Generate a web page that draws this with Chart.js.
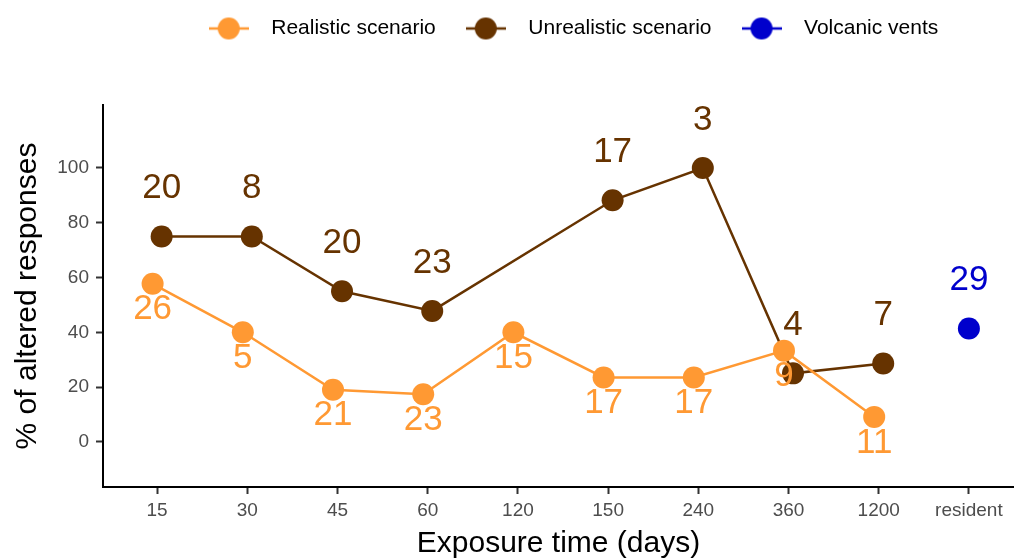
<!DOCTYPE html>
<html>
<head>
<meta charset="utf-8">
<script src="https://cdn.jsdelivr.net/npm/chart.js@4/dist/chart.umd.min.js"></script>
<style>
  body { margin: 0; background: #fff; }
  #wrap { width: 1014px; height: 559px; }
</style>
</head>
<body>
<div id="wrap"><canvas id="lineChart"></canvas></div>
<script>
// categories on the x axis (exposure time, days)
var categories = ['15', '30', '45', '60', '120', '150', '240', '360', '1200', 'resident'];

// % of altered responses
var realistic   = [57.7, 40, 19, 17.4, 40, 23.5, 23.5, 33.3, 9.1, null];
var unrealistic = [75, 75, 55, 47.8, null, 88.2, 100, 25, 28.6, null];
var vents       = [null, null, null, null, null, null, null, null, null, 41.4];

// sample sizes printed next to the points
var realisticN   = [26, 5, 21, 23, 15, 17, 17, 9, 11, null];
var unrealisticN = [20, 8, 20, 23, null, 17, 3, 4, 7, null];
var ventsN       = [null, null, null, null, null, null, null, null, null, 29];

var yTicks = [0, 20, 40, 60, 80, 100];

var orange = '#FF9933';
var brown = '#663300';
var blue = '#0000CC';
var font = "'Liberation Sans', Arial, sans-serif";

// turn a value array into {x, y} points, with a small side-by-side dodge
function toPoints(values, dodge) {
    return values
        .map(function (v, i) { return v === null ? null : { x: i + dodge, y: v }; })
        .filter(function (p) { return p !== null; });
}
function toLabels(values, counts) {
    return values
        .map(function (v, i) { return v === null ? null : counts[i]; })
        .filter(function (c) { return c !== null; });
}

// legend key: line with a dot, like the ggplot key
function legendKey(color) {
    var c = document.createElement('canvas');
    c.width = 40; c.height = 24;
    var g = c.getContext('2d');
    g.strokeStyle = color; g.lineWidth = 2.5;
    g.beginPath(); g.moveTo(0, 12); g.lineTo(40, 12); g.stroke();
    g.fillStyle = color;
    g.beginPath(); g.arc(20, 12, 11, 0, Math.PI * 2); g.fill();
    return c;
}
var keyColors = [orange, brown, blue];

// number labels above / below each point
var pointLabels = {
    id: 'pointLabels',
    afterDatasetsDraw: function (chart) {
        var ctx = chart.ctx;
        ctx.save();
        ctx.font = '35px ' + font;
        ctx.textAlign = 'center';
        ctx.textBaseline = 'middle';
        chart.data.datasets.forEach(function (ds, di) {
            var meta = chart.getDatasetMeta(di);
            meta.data.forEach(function (el, i) {
                ctx.fillStyle = ds.borderColor;
                ctx.fillText(String(ds.counts[i]), el.x, el.y + ds.labelOffset);
            });
        });
        ctx.restore();
    }
};

// leave room between the legend and the plot, nudge the legend right a bit
var legendSpacer = {
    id: 'legendSpacer',
    beforeInit: function (chart) {
        var legend = chart.legend;
        var fit = legend.fit;
        var draw = legend.draw;
        legend.fit = function () {
            fit.apply(legend, arguments);
            legend.height += 56;
        };
        legend.draw = function () {
            legend.ctx.save();
            legend.ctx.translate(9, 0);
            draw.apply(legend, arguments);
            legend.ctx.restore();
        };
    }
};

var ctx = document.getElementById('lineChart').getContext('2d');

var MyChart = new Chart(ctx, {
    type: 'line',
    data: {
        datasets: [{
            label: 'Realistic scenario',
            data: toPoints(realistic, -0.05),
            counts: toLabels(realistic, realisticN),
            labelOffset: 26,
            borderColor: orange,
            backgroundColor: orange,
            borderWidth: 2.5,
            pointRadius: 11,
            pointHoverRadius: 11,
            pointBorderWidth: 0
        }, {
            label: 'Unrealistic scenario',
            data: toPoints(unrealistic, 0.05),
            counts: toLabels(unrealistic, unrealisticN),
            labelOffset: -48,
            borderColor: brown,
            backgroundColor: brown,
            borderWidth: 2.5,
            pointRadius: 11,
            pointHoverRadius: 11,
            pointBorderWidth: 0
        }, {
            label: 'Volcanic vents',
            data: toPoints(vents, 0),
            counts: toLabels(vents, ventsN),
            labelOffset: -48,
            borderColor: blue,
            backgroundColor: blue,
            showLine: false,
            pointRadius: 11,
            pointHoverRadius: 11,
            pointBorderWidth: 0
        }]
    },
    options: {
        responsive: true,
        maintainAspectRatio: false,
        animation: false,
        layout: { padding: 0, autoPadding: false },
        plugins: {
            tooltip: { enabled: false },
            legend: {
                position: 'top',
                fullSize: false,
                labels: {
                    usePointStyle: true,
                    pointStyleWidth: 64,
                    padding: 18,
                    color: '#000',
                    font: { family: font, size: 21 },
                    generateLabels: function (chart) {
                        return Chart.defaults.plugins.legend.labels.generateLabels(chart).map(function (l) {
                            l.pointStyle = legendKey(keyColors[l.datasetIndex]);
                            return l;
                        });
                    }
                }
            }
        },
        scales: {
            x: {
                type: 'linear',
                min: -0.6,
                max: 9.5,
                afterBuildTicks: function (scale) {
                    scale.ticks = categories.map(function (c, i) { return { value: i }; });
                },
                afterFit: function (scale) {
                    scale.height = 72;
                    scale.paddingLeft = 0;
                    scale.paddingRight = 0;
                },
                ticks: {
                    autoSkip: false,
                    maxRotation: 0,
                    padding: 5,
                    color: '#4D4D4D',
                    font: { family: font, size: 19 },
                    callback: function (v) { return categories[v]; }
                },
                grid: { drawOnChartArea: false, drawTicks: true, tickLength: 7, tickWidth: 2, color: '#333' },
                border: { display: true, color: '#000', width: 2 },
                title: {
                    display: true,
                    text: 'Exposure time (days)',
                    color: '#000',
                    font: { family: font, size: 30, lineHeight: 1.0 },
                    padding: { top: 0, bottom: 0 }
                }
            },
            y: {
                min: -16.5,
                max: 123,
                afterBuildTicks: function (scale) {
                    scale.ticks = yTicks.map(function (v) { return { value: v }; });
                },
                afterFit: function (scale) { scale.width = 103; },
                ticks: {
                    padding: 7,
                    color: '#4D4D4D',
                    font: { family: font, size: 19 }
                },
                grid: { drawOnChartArea: false, drawTicks: true, tickLength: 7, tickWidth: 2, color: '#333' },
                border: { display: true, color: '#000', width: 2 },
                title: {
                    display: true,
                    text: '% of altered responses',
                    color: '#000',
                    font: { family: font, size: 30 },
                    padding: { top: 10, bottom: 0 }
                }
            }
        }
    },
    plugins: [pointLabels, legendSpacer]
});
</script>
</body>
</html>
